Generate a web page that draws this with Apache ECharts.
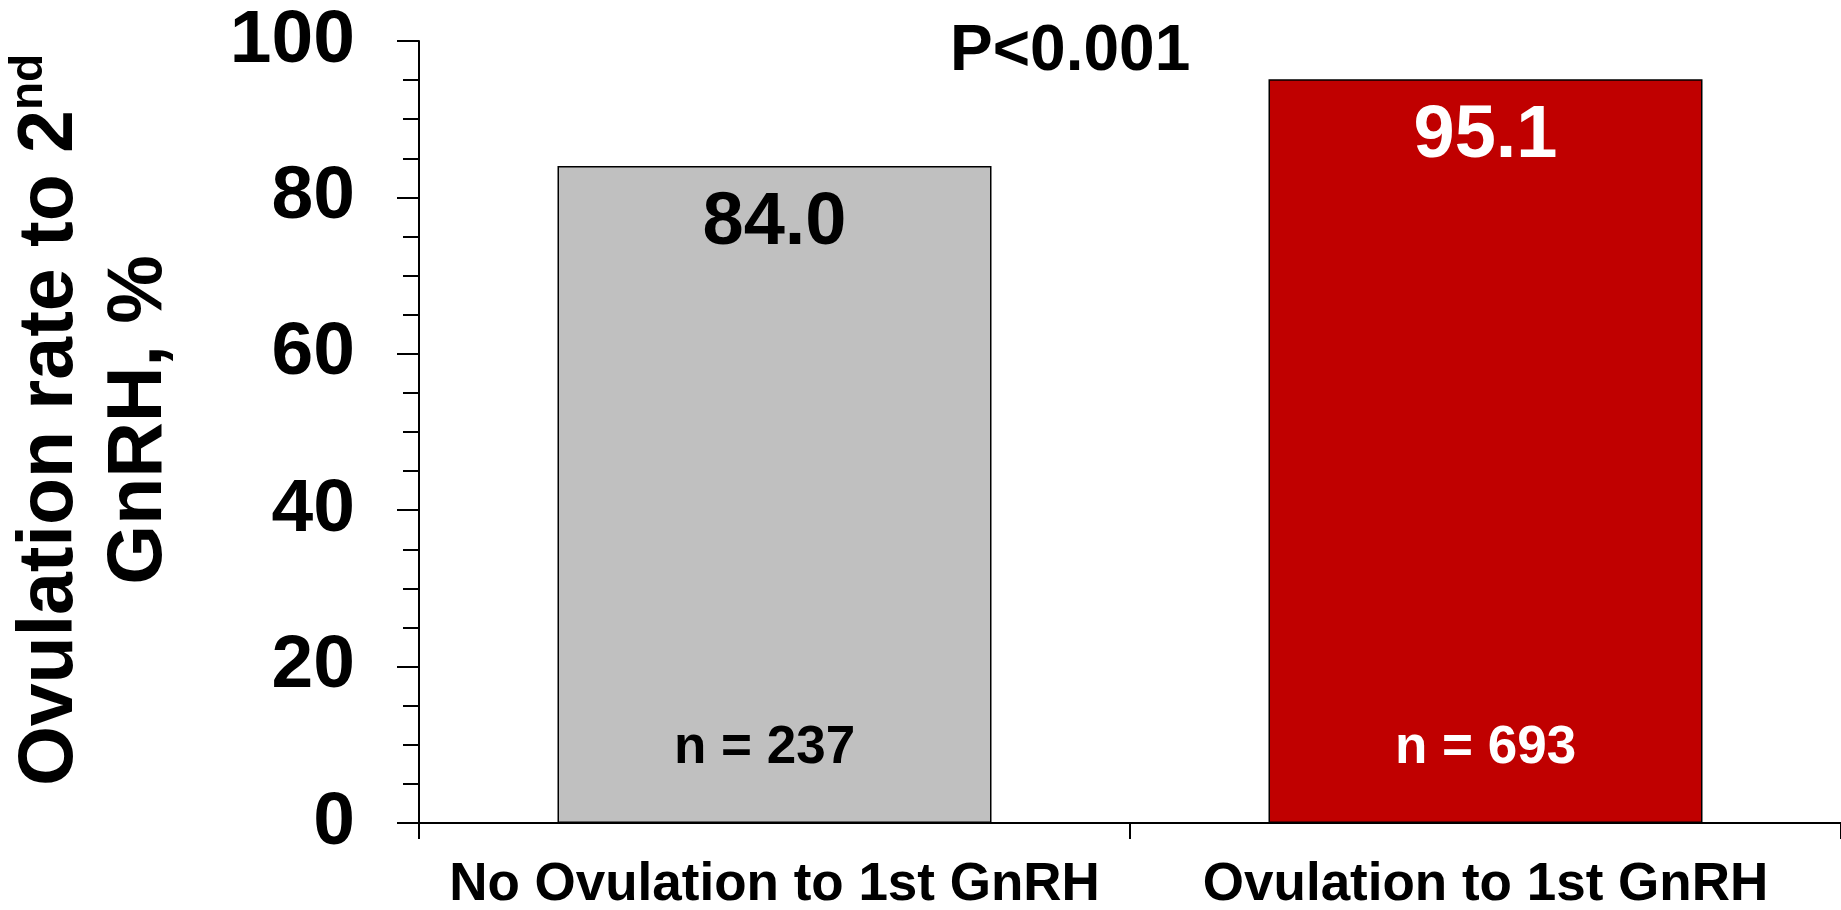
<!DOCTYPE html>
<html>
<head>
<meta charset="utf-8">
<script src="https://cdn.jsdelivr.net/npm/echarts@6/dist/echarts.min.js"></script>
<style>
html,body{margin:0;padding:0;background:#fff;}
#chart{width:1841px;height:910px;}
</style>
</head>
<body>
<div id="chart"></div>
<script>
const categories = ['No Ovulation to 1st GnRH', 'Ovulation to 1st GnRH'];
const ovulationRates = [84.0, 95.1];
const sampleSizes = [237, 693];
const barColors = ['#C0C0C0', '#C00000'];
const labelColors = ['#000000', '#FFFFFF'];
const yMin = 0, yMax = 100, yInterval = 20;
const pValueText = 'P<0.001';

const FONT = '"Liberation Sans", Arial, sans-serif';

const chart = echarts.init(document.getElementById('chart'));
chart.setOption({
  animation: false,
  backgroundColor: '#ffffff',
  grid: { left: 419, right: 0, top: 41, bottom: 87, containLabel: false, outerBoundsMode: 'none' },
  xAxis: {
    type: 'category',
    data: categories,
    axisLine: { lineStyle: { color: '#000', width: 2 } },
    axisTick: { show: true, alignWithLabel: false, length: 16, lineStyle: { color: '#000', width: 2 } },
    axisLabel: { color: '#000', fontFamily: FONT, fontWeight: 'bold', fontSize: 53, lineHeight: 55, margin: 35, interval: 0 }
  },
  yAxis: {
    type: 'value',
    min: yMin, max: yMax, interval: yInterval,
    splitLine: { show: false },
    axisLine: { show: true, lineStyle: { color: '#000', width: 2 } },
    axisTick: { show: true, inside: false, length: 22, lineStyle: { color: '#000', width: 2 } },
    minorTick: { show: true, splitNumber: 4, length: 16, lineStyle: { color: '#000', width: 2 } },
    minorSplitLine: { show: false },
    axisLabel: { color: '#000', fontFamily: FONT, fontWeight: 'bold', fontSize: 75, margin: 64 },
    name: '{a|Ovulation rate to 2}{s|nd}\n{a|GnRH, %}',
    nameLocation: 'middle',
    nameRotate: 90,
    nameGap: 235,
    nameTextStyle: {
      color: '#000',
      padding: [0, 0, 0, 24],
      rich: {
        a: { fontFamily: FONT, fontWeight: 'bold', fontSize: 77, lineHeight: 89, color: '#000' },
        s: { fontFamily: FONT, fontWeight: 'bold', fontSize: 46, lineHeight: 60, verticalAlign: 'top', color: '#000' }
      }
    }
  },
  series: [
    {
      type: 'bar',
      barWidth: 434,
      barGap: '-100%',
      data: ovulationRates.map((v, i) => ({
        value: v,
        itemStyle: { color: barColors[i], borderColor: '#000', borderWidth: 1.5 },
        label: { color: labelColors[i] }
      })),
      label: {
        show: true,
        position: 'insideTop',
        distance: 20,
        fontFamily: FONT, fontWeight: 'bold', fontSize: 74, lineHeight: 74,
        formatter: p => p.value.toFixed(1)
      }
    },
    {
      type: 'bar',
      barWidth: 434,
      barGap: '-100%',
      silent: true,
      z: 3,
      data: ovulationRates.map((v, i) => ({
        value: v,
        itemStyle: { color: 'rgba(0,0,0,0)', borderWidth: 0 },
        label: { color: labelColors[i], padding: i === 0 ? [0, 20, 0, 0] : 0 }
      })),
      label: {
        show: true,
        position: 'insideBottom',
        distance: 48,
        fontFamily: FONT, fontWeight: 'bold', fontSize: 53, lineHeight: 54,
        formatter: p => 'n = ' + sampleSizes[p.dataIndex]
      }
    }
  ],
  graphic: [
    {
      type: 'text',
      left: 1070 - 120,
      top: 52 - 33,
      style: { text: pValueText, fontFamily: FONT, fontWeight: 'bold', fontSize: 64, fill: '#000', width: 240, align: 'center', lineHeight: 66 }
    }
  ]
});
</script>
</body>
</html>
